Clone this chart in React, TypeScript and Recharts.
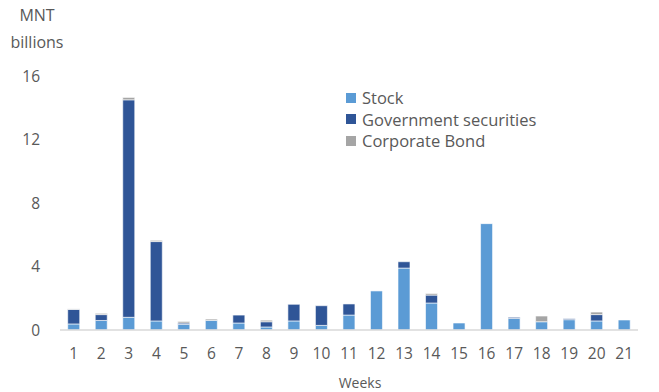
import React from 'react';
import { BarChart, Bar, XAxis, YAxis } from 'recharts';

const weeks = ['1','2','3','4','5','6','7','8','9','10','11','12','13','14','15','16','17','18','19','20','21'];
const stock = [0.38,0.6,0.8,0.57,0.36,0.61,0.44,0.19,0.57,0.29,0.94,2.46,3.9,1.7,0.44,6.7,0.73,0.52,0.65,0.57,0.63];
const government = [0.92,0.37,13.7,5.0,0.08,0,0.5,0.33,1.05,1.24,0.7,0,0.4,0.5,0,0,0.07,0,0.06,0.4,0];
const corporate = [0.03,0.08,0.15,0.08,0.1,0.08,0,0.1,0,0,0,0,0,0.1,0,0,0,0.36,0,0.16,0];
const yTicks = [0,4,8,12,16];

const data = weeks.map((w, i) => ({ week: w, stock: stock[i], gov: government[i], corp: corporate[i] }));

const FONT = '"Open Sans", "Noto Sans", sans-serif';
const TEXT = '#595959';

const legendItems = [
  { label: 'Stock', color: '#5B9BD5' },
  { label: 'Government securities', color: '#2F5597' },
  { label: 'Corporate Bond', color: '#A5A5A5' },
];

export default function App() {
  return (
    <div style={{ position: 'absolute', left: 0, top: 0, width: 659, height: 392, background: '#fff' }}>
      <div style={{ position: 'absolute', left: 0, top: 2, width: 74, textAlign: 'center', fontFamily: FONT, fontSize: 16, color: TEXT, lineHeight: '27px' }}>
        MNT<br />billions
      </div>
      <BarChart
        width={659}
        height={392}
        data={data}
        margin={{ top: 76, right: 21, bottom: 12, left: 0 }}
        barCategoryGap="28%"
      >
        <XAxis
          dataKey="week"
          height={50}
          axisLine={{ stroke: '#D9D9D9', strokeWidth: 1.5 }}
          tickLine={false}
          tickSize={0}
          tickMargin={18}
          tick={{ fill: TEXT, fontSize: 15.5, fontFamily: FONT }}
          interval={0}
        />
        <YAxis
          width={60}
          domain={[0, 16]}
          ticks={yTicks}
          axisLine={false}
          tickLine={false}
          tickSize={0}
          tickMargin={20}
          tick={{ fill: TEXT, fontSize: 15.5, fontFamily: FONT }}
        />
        <Bar dataKey="stock" stackId="a" fill="#5B9BD5" stroke="#fff" strokeWidth={0.6} isAnimationActive={false} />
        <Bar dataKey="gov" stackId="a" fill="#2F5597" stroke="#fff" strokeWidth={0.6} isAnimationActive={false} />
        <Bar dataKey="corp" stackId="a" fill="#A5A5A5" stroke="#fff" strokeWidth={0.6} isAnimationActive={false} />
      </BarChart>
      <div style={{ position: 'absolute', left: 346, top: 87, fontFamily: FONT, fontSize: 16.5, color: TEXT }}>
        {legendItems.map((it) => (
          <div key={it.label} style={{ display: 'flex', alignItems: 'center', height: 21.5 }}>
            <span style={{ display: 'inline-block', width: 10, height: 10, background: it.color, marginRight: 6 }} />
            <span>{it.label}</span>
          </div>
        ))}
      </div>
      <div style={{ position: 'absolute', left: 320, top: 373, width: 80, textAlign: 'center', fontFamily: FONT, fontSize: 14, color: TEXT }}>
        Weeks
      </div>
    </div>
  );
}
